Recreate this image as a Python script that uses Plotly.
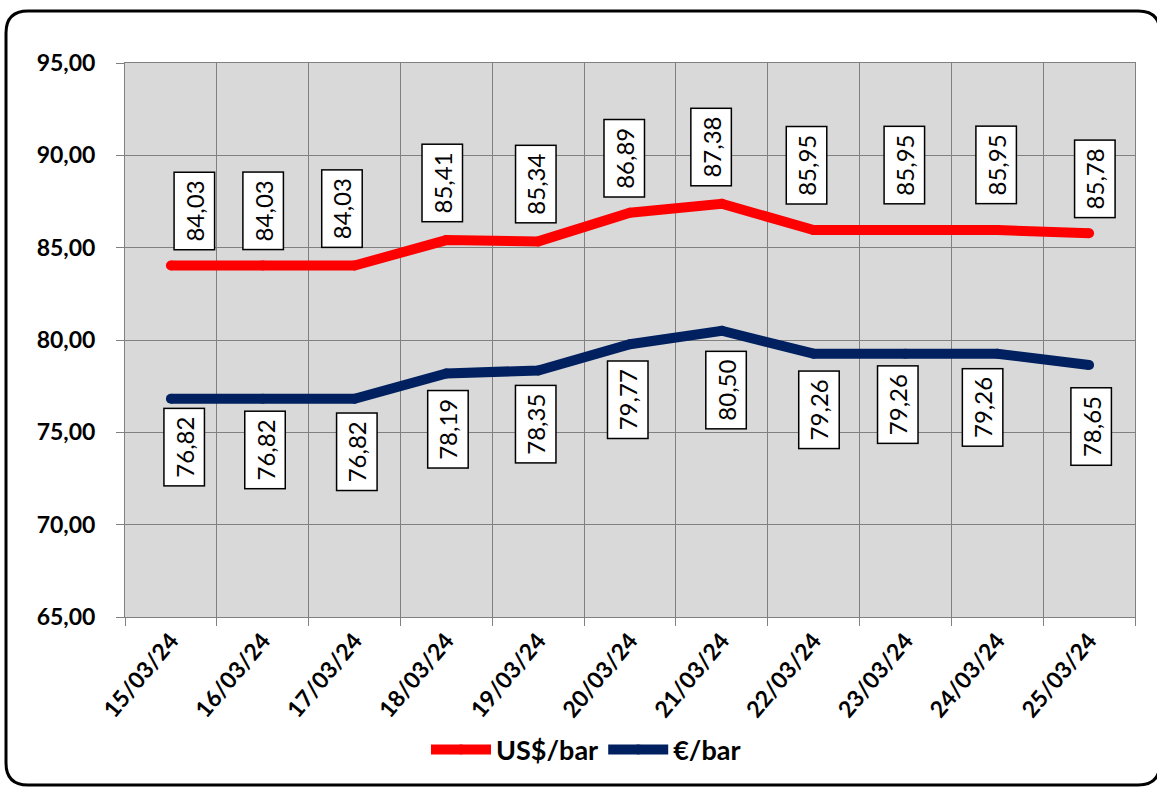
import plotly.graph_objects as go

# ---- data ----
dates = ["15/03/24", "16/03/24", "17/03/24", "18/03/24", "19/03/24", "20/03/24",
         "21/03/24", "22/03/24", "23/03/24", "24/03/24", "25/03/24"]
usd_bar = [84.03, 84.03, 84.03, 85.41, 85.34, 86.89, 87.38, 85.95, 85.95, 85.95, 85.78]
eur_bar = [76.82, 76.82, 76.82, 78.19, 78.35, 79.77, 80.50, 79.26, 79.26, 79.26, 78.65]
y_ticks = [65, 70, 75, 80, 85, 90, 95]

# ---- label nudges (pixels) ----
red_dx = [23, 0, -13, -4, -2, -6, -11, -7, -1, -1, 6]
red_up = [55, 55, 57, 57, 57, 54, 57, 65, 65, 65, 54]
blue_dx = [13, 2, 2, 2, -2, -2, 4, 5, -8, -15, 2]
blue_down = [48, 51, 53, 56, 54, 56, 59, 56, 51, 54, 62]

W, H = 1157, 787
L, T = 125, 63
PW, PH = 1010, 554
R, B = W - L - PW, H - T - PH

RED = "#FF0000"
NAVY = "#002060"
FONT = "Lato"

xs = list(range(len(dates)))

fig = go.Figure()
fig.add_trace(go.Scatter(x=xs, y=usd_bar, name="US$/bar", mode="lines+markers",
                         line=dict(color=RED, width=10), marker=dict(color=RED, size=10),
                         hoverinfo="skip"))
fig.add_trace(go.Scatter(x=xs, y=eur_bar, name="€/bar", mode="lines+markers",
                         line=dict(color=NAVY, width=10), marker=dict(color=NAVY, size=10),
                         hoverinfo="skip"))

annotations = []
for i, v in enumerate(usd_bar):
    annotations.append(dict(x=xs[i], y=v, xref="x", yref="y", text=f"{v:.2f}".replace(".", ","),
                            showarrow=False, textangle=-90, xshift=red_dx[i], yshift=red_up[i],
                            bgcolor="white", bordercolor="black", borderwidth=1.5, borderpad=1,
                            width=74, height=37, font=dict(family=FONT, size=24, color="black")))
for i, v in enumerate(eur_bar):
    annotations.append(dict(x=xs[i], y=v, xref="x", yref="y", text=f"{v:.2f}".replace(".", ","),
                            showarrow=False, textangle=-90, xshift=blue_dx[i], yshift=-blue_down[i],
                            bgcolor="white", bordercolor="black", borderwidth=1.5, borderpad=1,
                            width=74, height=37, font=dict(family=FONT, size=24, color="black")))


def px_x(px):
    # page pixel -> paper x
    return (px - L) / PW


def px_y(py):
    # page pixel -> paper y
    return (T + PH - py) / PH


# rounded outer frame (page pixel coords)
x0, y0, x1, y1, r = 6, 11, 1160, 785, 22
pts = [
    ("M", (x0 + r, y0)), ("L", (x1 - r, y0)), ("Q", (x1, y0), (x1, y0 + r)),
    ("L", (x1, y1 - r)), ("Q", (x1, y1), (x1 - r, y1)), ("L", (x0 + r, y1)),
    ("Q", (x0, y1), (x0, y1 - r)), ("L", (x0, y0 + r)), ("Q", (x0, y0), (x0 + r, y0)),
]
path = ""
for p in pts:
    coords = " ".join(f"{px_x(a):.5f},{px_y(b):.5f}" for a, b in p[1:])
    path += f"{p[0]}{coords} "
path += "Z"

fig.update_layout(
    width=W, height=H,
    margin=dict(l=L, r=R, t=T, b=B, pad=0),
    paper_bgcolor="white",
    plot_bgcolor="#D9D9D9",
    separators=",.",
    font=dict(family=FONT, color="black"),
    showlegend=True,
    legend=dict(orientation="h", x=px_x(586), y=px_y(750), xanchor="center", yanchor="middle",
                font=dict(family=FONT, size=27, color="black", weight="bold"),
                bgcolor="rgba(0,0,0,0)", itemwidth=60, tracegroupgap=0),
    annotations=annotations,
    shapes=[dict(type="path", path=path, xref="paper", yref="paper",
                 line=dict(color="black", width=3), fillcolor="rgba(0,0,0,0)", layer="above")],
)

fig.update_xaxes(
    range=[-0.5, len(dates) - 0.5],
    tickmode="array", tickvals=xs, ticktext=dates, tickangle=-50,
    ticks="", showgrid=False, zeroline=False,
    tickfont=dict(family=FONT, size=23, color="black", weight="bold"),
    showline=True, linecolor="#808080", linewidth=1, mirror=True,
    minor=dict(tick0=-0.5, dtick=1, ticks="outside", ticklen=8, tickcolor="#808080",
               tickwidth=1, showgrid=True, gridcolor="#808080", gridwidth=1),
)
fig.update_yaxes(
    range=[65, 95], tickmode="array", tickvals=y_ticks, tickformat=".2f",
    ticks="outside", ticklen=8, tickcolor="#808080", tickwidth=1,
    showgrid=True, gridcolor="#808080", gridwidth=1, zeroline=False,
    tickfont=dict(family=FONT, size=23, color="black", weight="bold"),
    showline=True, linecolor="#808080", linewidth=1, mirror=True,
    ticklabelstandoff=16,
)

fig.write_html("out.html", config={"displayModeBar": False},
               post_script="document.body.style.margin='0';document.body.style.overflow='hidden';")
